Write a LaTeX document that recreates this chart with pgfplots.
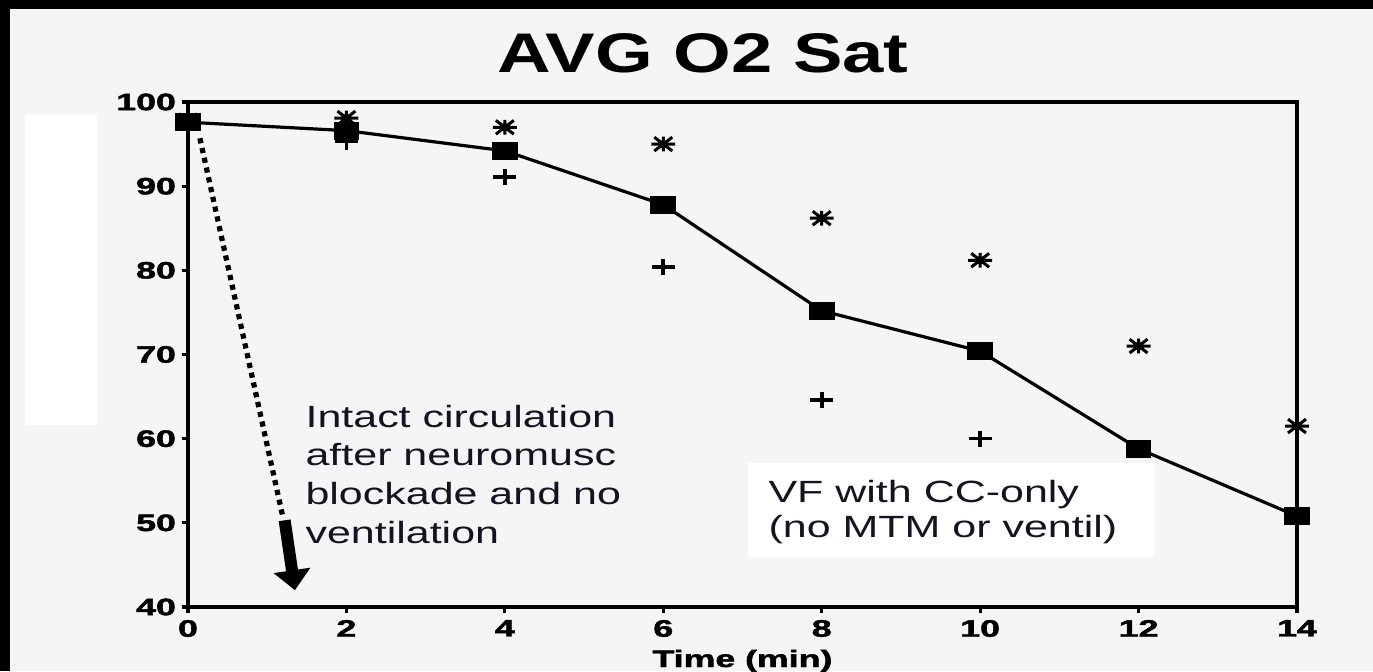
\documentclass[border=0pt]{standalone}
\usepackage{pgfplots}
\pgfplotsset{compat=1.18}
\usepackage{fontspec}
\setmainfont{Liberation Sans}
\newfontfamily\heavyfont{Liberation Sans}[FakeBold=1.6]
\usetikzlibrary{arrows.meta}
\definecolor{panel}{HTML}{F5F5F5}
\definecolor{ink}{HTML}{141420}

% eight-spoked burst used for the upper values
\pgfdeclareplotmark{burst}{%
  \pgfpathmoveto{\pgfqpoint{-\pgfplotmarksize}{0pt}}%
  \pgfpathlineto{\pgfqpoint{\pgfplotmarksize}{0pt}}%
  \pgfpathmoveto{\pgfqpoint{0pt}{-0.8\pgfplotmarksize}}%
  \pgfpathlineto{\pgfqpoint{0pt}{0.8\pgfplotmarksize}}%
  \pgfpathmoveto{\pgfqpoint{-0.75\pgfplotmarksize}{-0.75\pgfplotmarksize}}%
  \pgfpathlineto{\pgfqpoint{0.75\pgfplotmarksize}{0.75\pgfplotmarksize}}%
  \pgfpathmoveto{\pgfqpoint{-0.75\pgfplotmarksize}{0.75\pgfplotmarksize}}%
  \pgfpathlineto{\pgfqpoint{0.75\pgfplotmarksize}{-0.75\pgfplotmarksize}}%
  \pgfusepathqstroke
  \pgfpathcircle{\pgfpointorigin}{0.45\pgfplotmarksize}%
  \pgfusepathqfill
}

% Mean O2 saturation (squares) with upper (bursts) and lower (plus) values
\pgfplotstableread{
t  sat
0  97.6
2  96.6
4  94.2
6  87.8
8  75.2
10 70.4
12 58.8
14 50.8
}\meantab
\pgfplotstableread{
t  sat
0  97.8
2  98.1
4  97.0
6  95.0
8  86.2
10 81.2
12 71.0
14 61.5
}\uppertab
\pgfplotstableread{
t  sat
0  97.3
2  95.3
4  91.1
6  80.4
8  64.6
10 60.0
12 47.0
}\lowertab

\begin{document}
\begin{tikzpicture}[x=0.5pt,y=-0.5pt]
\path[use as bounding box] (0,0) rectangle (1373,671);
\clip (0,0) rectangle (1373,671);
\fill[black] (0,0) rectangle (1373,671);
\fill[panel] (10,9) rectangle (1373,671);
\fill[white] (25,115) rectangle (97,425);
\node[anchor=base, inner sep=0pt, font=\bfseries\fontsize{27.9}{30}\selectfont, xscale=1.33] at (703,72) {AVG O2 Sat};

\begin{axis}[
  at={(94pt,-303.5pt)}, anchor=south west,
  scale only axis, width=554.5pt, height=252.5pt,
  xmin=0, xmax=14, ymin=40, ymax=100,
  xtick={0,2,...,14}, ytick={40,50,...,100},
  axis line style={line width=2pt},
  every tick/.style={line width=1.6pt, black},
  tick align=outside, major tick length=3pt,
  xtick pos=bottom, ytick pos=left,
  /pgf/number format/assume math mode=true,
  ticklabel style={font=\heavyfont\bfseries\fontsize{11.9}{12}\selectfont, xscale=1.5},
  yticklabel style={xshift=1.5pt},
  xlabel={Time (min)},
  xlabel style={at={(axis description cs:0.5,0)}, anchor=base, yshift=-30pt,
    font=\heavyfont\bfseries\fontsize{11.9}{12}\selectfont, xscale=1.5, inner sep=0pt},
  clip=false,
]
\addplot[black, line width=1.6pt, mark=square*,
  mark options={xscale=1.45, mark size=4.25pt, line width=0.5pt}]
  table[x=t, y=sat] {\meantab};
\addplot[only marks, black, mark=burst,
  mark options={xscale=1.3, mark size=4.6pt, line width=1.5pt}]
  table[x=t, y=sat] {\uppertab};
\addplot[only marks, black, mark=+,
  mark options={xscale=1.45, mark size=4pt, line width=1.8pt}]
  table[x=t, y=sat] {\lowertab};

\draw[black, line width=2.6pt, dash pattern=on 2.6pt off 2.4pt]
  (axis cs:0.15,95.7) -- (axis cs:1.20,50.6);
\draw[black, line width=6pt, -{Triangle[width=18pt,length=10pt]}]
  (axis cs:1.22,50.3) -- (axis cs:1.35,42.0);
\end{axis}

\fill[white] (748,463) rectangle (1155,557);
\begin{scope}[every node/.style={anchor=base west, inner sep=0pt, text=ink,
    font=\fontsize{15.35}{19}\selectfont, xscale=1.4}]
\node at (305,427) {Intact circulation};
\node at (305,465) {after neuromusc};
\node at (305,504) {blockade and no};
\node at (305,543) {ventilation};
\node at (768,502) {VF with CC-only};
\node at (768,537) {(no MTM or ventil)};
\end{scope}
\end{tikzpicture}
\end{document}
